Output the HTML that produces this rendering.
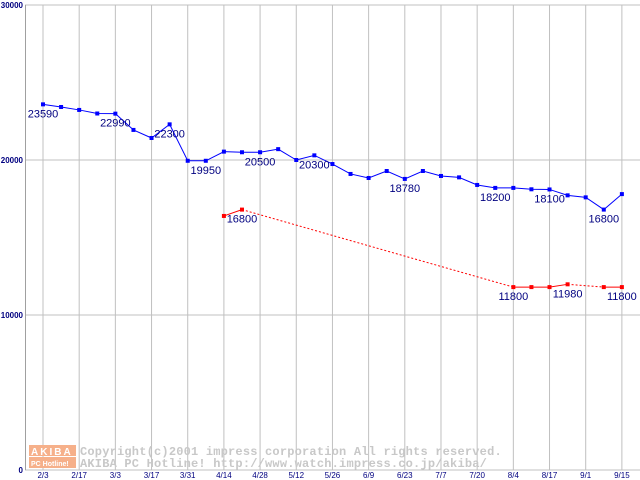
<!DOCTYPE html>
<html><head><meta charset="utf-8"><style>
html,body{margin:0;padding:0;background:#fff;width:640px;height:480px;overflow:hidden}
svg{display:block}
</style></head><body>
<svg id="chart" width="640" height="480" xmlns="http://www.w3.org/2000/svg" font-family="Liberation Sans, sans-serif"></svg>
<script>
const xTickLabels=["2/3","2/17","3/3","3/17","3/31","4/14","4/28","5/12","5/26","6/9","6/23","7/7","7/20","8/4","8/17","9/1","9/15"];
const yTicks=[0,10000,20000,30000];
const blueValues=[23590,23420,23230,23000,22990,21940,21420,22300,19950,19950,20540,20500,20500,20700,20000,20300,19740,19100,18840,19290,18780,19290,18970,18880,18390,18200,18200,18110,18100,17720,17590,16800,17800];
const blueLabels={0:"23590",4:"22990",7:"22300",9:"19950",12:"20500",15:"20300",20:"18780",25:"18200",28:"18100",31:"16800"};
const redValues=[null,null,null,null,null,null,null,null,null,null,16390,16800,null,null,null,null,null,null,null,null,null,null,null,null,null,null,11800,11800,11800,11980,null,11800,11800];
const redLabels={11:"16800",26:"11800",29:"11980",32:"11800"};
const NS="http://www.w3.org/2000/svg";
const svg=document.getElementById('chart');
const X=i=>43+i*18.09;
const Y=v=>470-v*0.0155;
function mk(t,a,p){const e=document.createElementNS(NS,t);for(const k in a)e.setAttribute(k,a[k]);(p||svg).appendChild(e);return e;}
yTicks.forEach(v=>{
 const l=mk('line',{x1:25,x2:640,y1:Y(v),y2:Y(v),stroke:'#c0c0c0','stroke-width':1});
 
 
 const t=mk('text',{x:23,y:Y(v)+3,'text-anchor':'end','font-size':8,'font-weight':'bold',fill:'#000080'});
 t.textContent=v;
 
 
});
xTickLabels.forEach((s,k)=>{
 const x=X(k*2);
 const l=mk('line',{x1:x,x2:x,y1:5,y2:470,stroke:'#c0c0c0','stroke-width':1});
 
 
 const t=mk('text',{x:x,y:478,'text-anchor':'middle','font-size':8,fill:'#000080'});
 t.textContent=s;
 
 
});
const ax=mk('line',{x1:25.5,x2:25.5,y1:5,y2:470,stroke:'#a0a0a0'});


const wm=mk('g',{});


mk('rect',{x:29,y:445,width:47,height:11,fill:'#f6b08a'},wm);
mk('rect',{x:29,y:457,width:47,height:11,fill:'#f6b08a'},wm);
const w1=mk('text',{x:31,y:455,'font-size':10,fill:'#fff','font-weight':'bold','letter-spacing':2},wm);w1.textContent='AKIBA';
const w2=mk('text',{x:31,y:466,'font-size':7,fill:'#fff','font-weight':'bold'},wm);w2.textContent='PC Hotline!';
const w3=mk('text',{x:80,y:455,'font-size':12,'letter-spacing':0.2,fill:'#c8c8c8','font-family':'Liberation Mono, monospace','font-weight':'bold'},wm);w3.textContent='Copyright(c)2001 impress corporation All rights reserved.';
const w4=mk('text',{x:80,y:467,'font-size':12,'letter-spacing':0.2,fill:'#c8c8c8','font-family':'Liberation Mono, monospace','font-weight':'bold'},wm);w4.textContent='AKIBA PC Hotline!  http://www.watch.impress.co.jp/akiba/';
let d='';blueValues.forEach((v,i)=>{d+=(i?'L':'M')+X(i)+' '+Y(v);});
const bl=mk('path',{d:d,fill:'none',stroke:'#0000ff','stroke-width':1});


blueValues.forEach((v,i)=>{
 const r=mk('rect',{x:X(i)-2,y:Y(v)-2,width:4,height:4,fill:'#0000ff'});
 
 
 if(blueLabels[i]){const t=mk('text',{x:X(i),y:Y(v)+13,'text-anchor':'middle','font-size':11,fill:'#000080'});t.textContent=blueLabels[i];
 
 }
});
let prev=-1;
redValues.forEach((v,i)=>{
 if(v==null)return;
 if(prev>=0){
  const dotted=(i-prev)>1;
  const l=mk('line',{x1:X(prev),y1:Y(redValues[prev]),x2:X(i),y2:Y(v),stroke:'#ff0000','stroke-width':1,'stroke-dasharray':dotted?'2,2':'none'});
  
  
 }
 prev=i;
});
redValues.forEach((v,i)=>{
 if(v==null)return;
 const r=mk('rect',{x:X(i)-2,y:Y(v)-2,width:4,height:4,fill:'#ff0000'});
 
 
 if(redLabels[i]){const t=mk('text',{x:X(i),y:Y(v)+13,'text-anchor':'middle','font-size':11,fill:'#000080'});t.textContent=redLabels[i];
 
 }
});
</script>
</body></html>
